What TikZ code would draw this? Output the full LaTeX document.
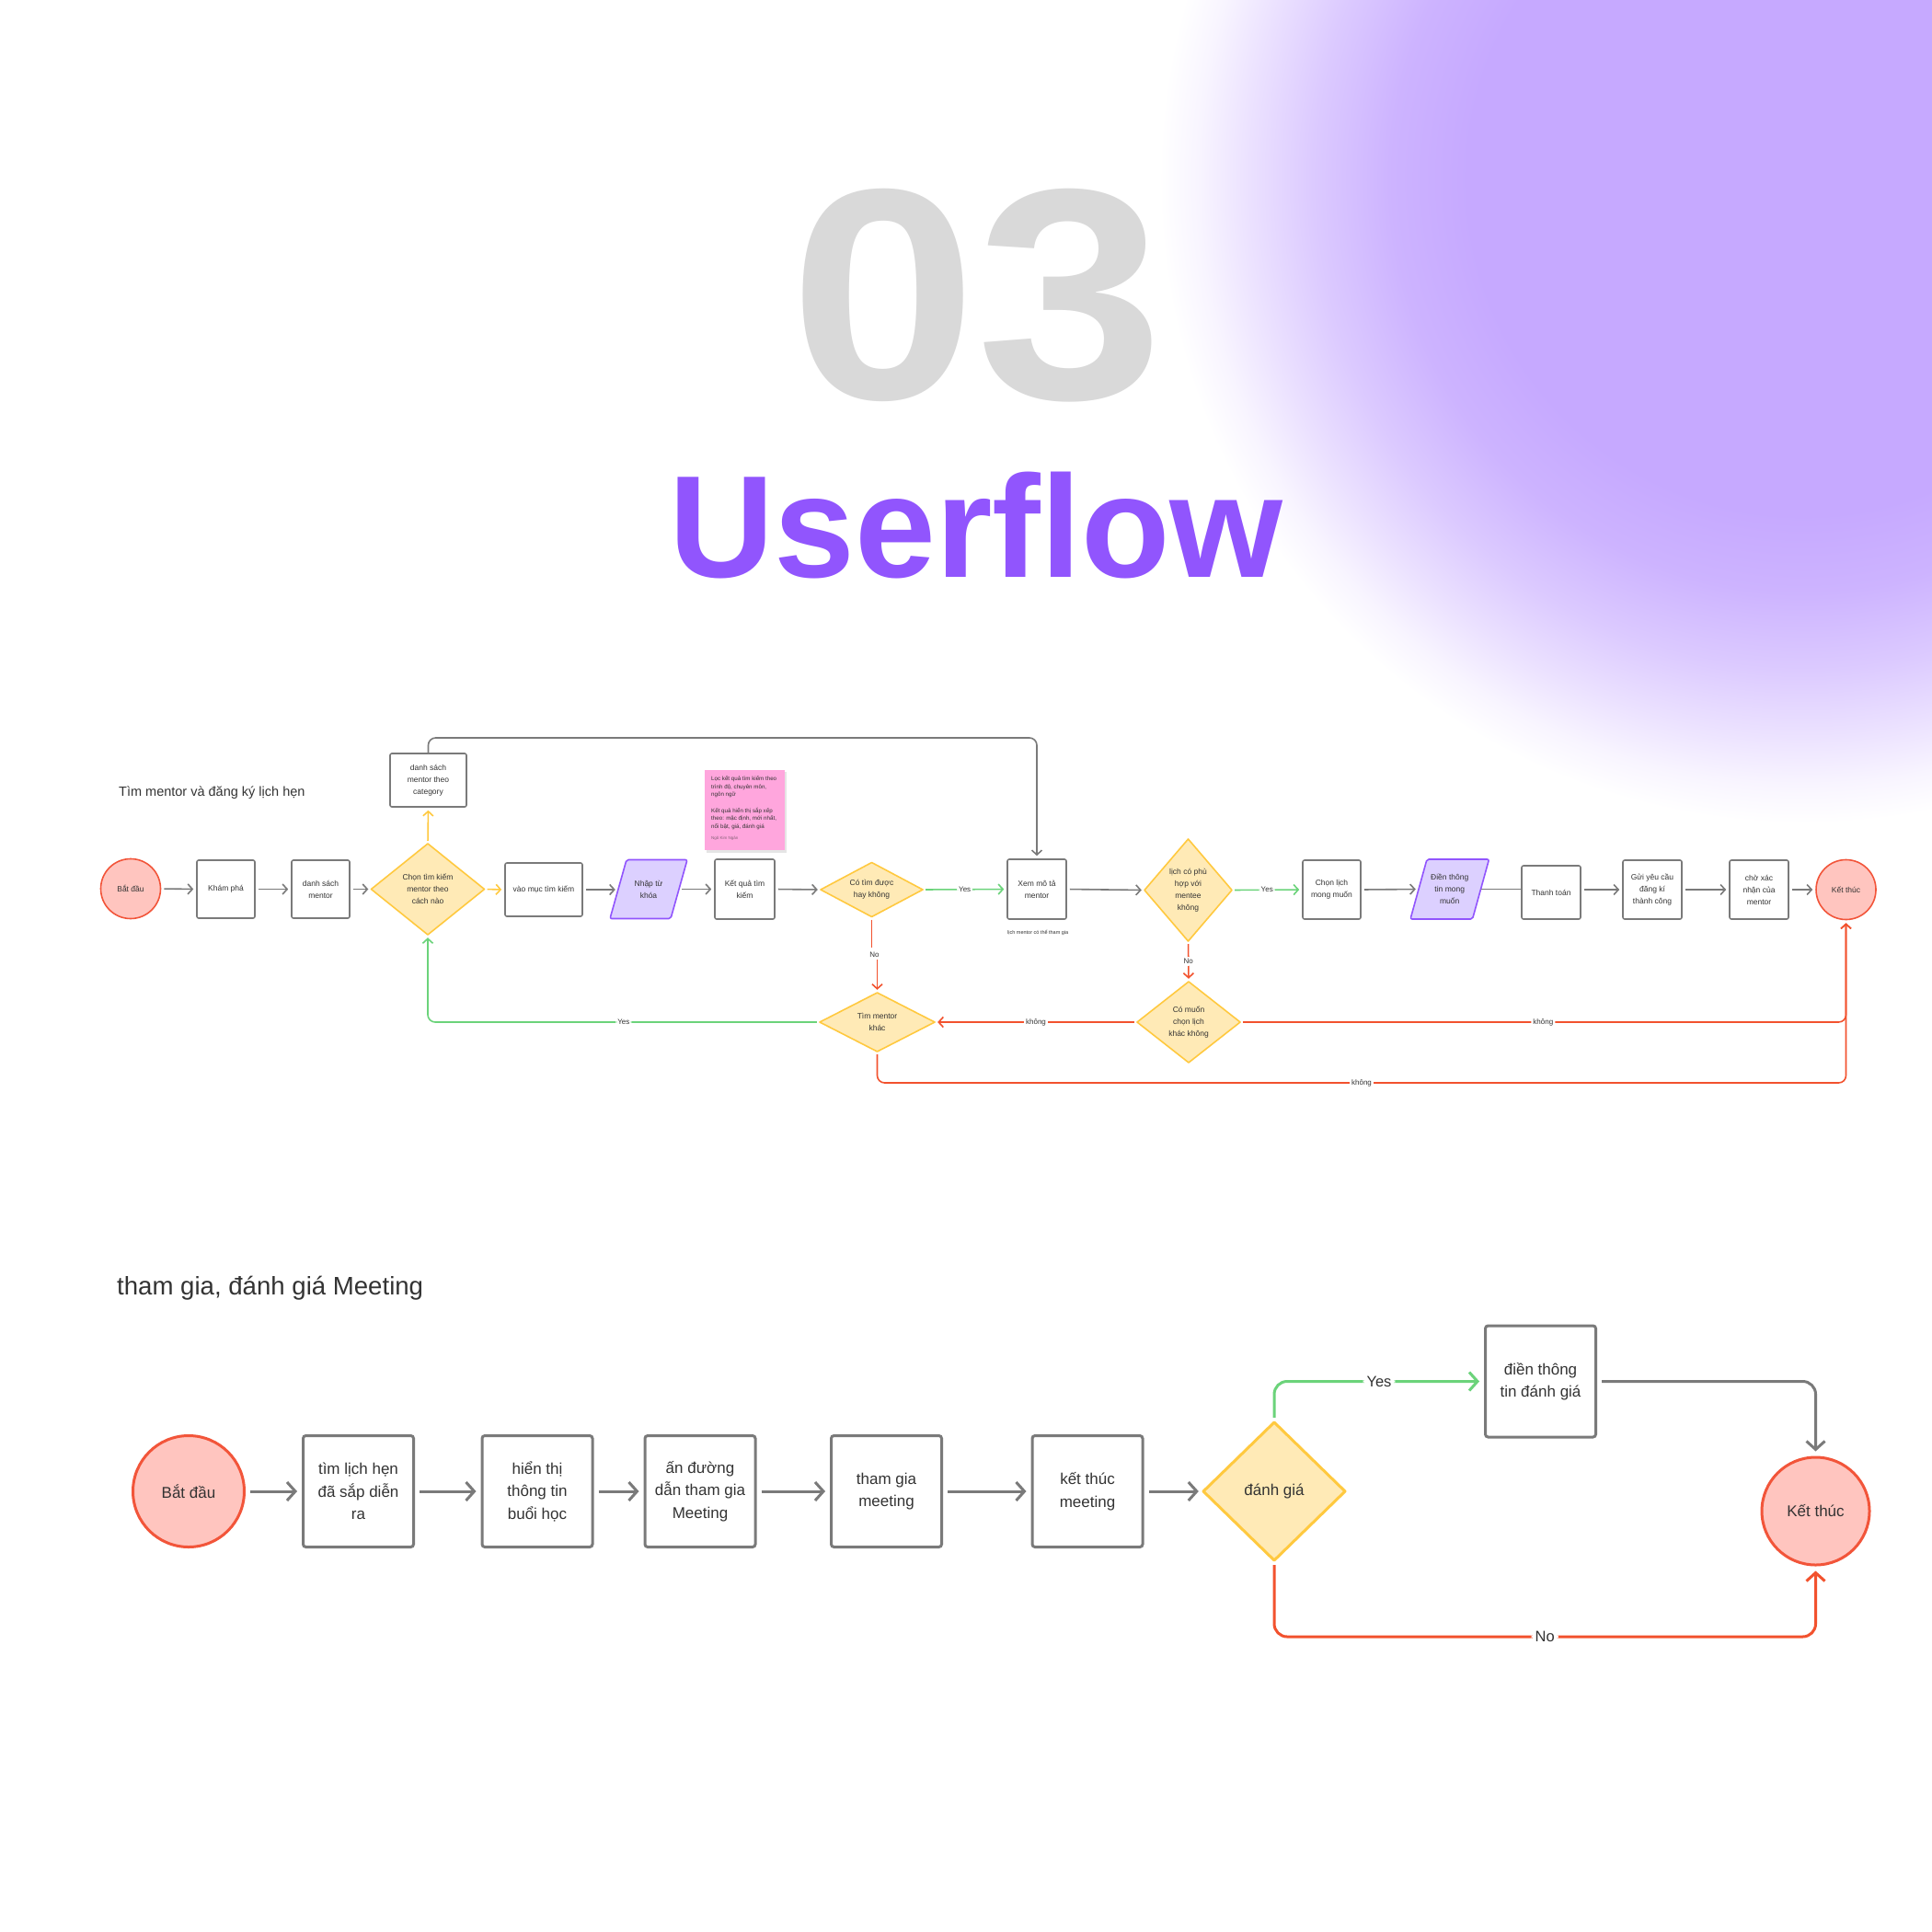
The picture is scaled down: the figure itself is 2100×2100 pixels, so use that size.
\documentclass[tikz,border=0pt]{standalone}
\usepackage{fontspec}
\setmainfont{Liberation Sans}
\usetikzlibrary{arrows.meta}
\definecolor{blobc}{HTML}{C6A9FF}
\definecolor{gray03}{HTML}{D9D9D9}
\definecolor{purp}{HTML}{9155FD}
\definecolor{txt}{HTML}{333333}
\definecolor{boxc}{HTML}{7A7A7A}
\definecolor{gline}{HTML}{7A7A7A}
\definecolor{grc}{HTML}{6BD37A}
\definecolor{redl}{HTML}{F2522E}
\definecolor{redc}{HTML}{F2553A}
\definecolor{pinkc}{HTML}{FFC5BF}
\definecolor{dfill}{HTML}{FFEAB6}
\definecolor{dedge}{HTML}{FFC93F}
\definecolor{pfill}{HTML}{DCD0FF}
\definecolor{pedge}{HTML}{9155FD}
\definecolor{pinkn}{HTML}{FFA6DD}
\colorlet{blobA}{blobc!88!white}
\colorlet{blobB}{blobc!62!white}
\colorlet{blobC}{blobc!35!white}
\colorlet{blobD}{blobc!12!white}
\pgfdeclareradialshading{blobshade}{\pgfpoint{0bp}{0bp}}{color(0bp)=(blobc); color(13bp)=(blobc); color(16bp)=(blobA); color(19bp)=(blobB); color(21.5bp)=(blobC); color(23.5bp)=(blobD); color(25bp)=(white); color(50bp)=(white)}
\newcommand\myfs[2]{\fontsize{#1}{#2}\selectfont}
% diamond: shape style, text style, name, x, y, half w, half h, text
\newcommand\dmd[8]{%
  \path[#1] (#4-#6,#5) -- (#4,#5-#7) -- (#4+#6,#5) -- (#4,#5+#7) -- cycle;
  \node[#2, minimum width=2*#6, minimum height=2*#7] (#3) at (#4,#5) {#8};}
% parallelogram: shape style, text style, name, x, y, half w (mid), half h, slant, text
\newcommand\prl[9]{%
  \path[#1] (#4-#6-#8,#5+#7) -- (#4-#6+#8,#5-#7) -- (#4+#6+#8,#5-#7) -- (#4+#6-#8,#5+#7) -- cycle;
  \node[#2, minimum width=2*#6, minimum height=2*#7] (#3) at (#4,#5) {#9};}
\tikzset{
  bx1/.style={rectangle, draw=boxc, line width=1.6pt, rounded corners=2pt, fill=white, inner sep=0pt, align=center, font=\myfs{8.5}{13}, text=txt},
  tx1/.style={rectangle, inner sep=0pt, align=center, font=\myfs{8.5}{13}, text=txt},
  ci1/.style={circle, draw=redc, fill=pinkc, line width=1.6pt, inner sep=0pt, minimum size=65pt, align=center, font=\myfs{8.5}{13}, text=txt},
  df1/.style={fill=dfill, draw=dedge, line width=1.6pt, line join=round},
  pf1/.style={fill=pfill, draw=pedge, line width=1.6pt, line join=round, rounded corners=2pt},
  ln1/.style={line width=1.6pt, shorten >=3pt, shorten <=3pt, -{Straight Barb[length=5pt,width=11pt]}, rounded corners=8pt},
  gy1/.style={ln1, draw=gline},
  gr1/.style={ln1, draw=grc},
  rd1/.style={ln1, draw=redl},
  yl1/.style={ln1, draw=dedge},
  lb1/.style={fill=white, inner sep=2pt, font=\myfs{8}{10}, text=txt},
  bx2/.style={rectangle, draw=boxc, line width=3pt, rounded corners=3pt, fill=white, inner sep=0pt, align=center, minimum width=120pt, minimum height=121pt, font=\myfs{17}{24.5}, text=txt},
  tx2/.style={rectangle, inner sep=0pt, align=center, font=\myfs{17}{24.5}, text=txt},
  ci2/.style={circle, draw=redc, fill=pinkc, line width=3pt, inner sep=0pt, minimum size=121pt, align=center, font=\myfs{17}{24.5}, text=txt},
  df2/.style={fill=dfill, draw=dedge, line width=3pt, line join=round},
  ln2/.style={line width=3pt, shorten >=5pt, shorten <=5pt, -{Straight Barb[length=9pt,width=20pt]}, rounded corners=14pt},
  gy2/.style={ln2, draw=gline},
  gr2/.style={ln2, draw=grc},
  rd2/.style={ln2, draw=redl},
  lb2/.style={fill=white, inner sep=4pt, font=\myfs{16.5}{20}, text=txt},
}
\begin{document}
\begin{tikzpicture}[x=1pt,y=-1pt]
\useasboundingbox (0,0) rectangle (2100,2100);
\fill[white] (0,0) rectangle (2100,2100);
\begin{scope}
  \clip (0,0) rectangle (2100,2100);
  \shade[shading=blobshade] (1960,195) circle[radius=700pt];
\end{scope}
% headings
\node[anchor=base, inner sep=0pt, font=\myfs{327}{327}\bfseries, text=gray03] (num) at (1062,433) {\scalebox{1.12}[1]{03}};
\node[anchor=base, inner sep=0pt, font=\myfs{158}{158}\bfseries, text=purp] (uf) at (1061,627) {Userflow};
\node[anchor=base west, inner sep=0pt, font=\myfs{14.5}{17}, text=txt] (title1) at (129,865) {Tìm mentor và đăng ký lịch hẹn};
\node[anchor=base west, inner sep=0pt, font=\myfs{27.6}{30}, text=txt] (title2) at (127,1407) {tham gia, đánh giá Meeting};

% ---------- flow 1 ----------
\node[ci1] (s1) at (142,966) {Bắt đầu};
\node[bx1, minimum width=63pt, minimum height=63pt] (kp) at (245.5,966.5) {Khám phá};
\node[bx1, minimum width=63pt, minimum height=63pt] (dsm) at (348.5,966.5) {danh sách\\mentor};
\dmd{df1}{tx1}{chon}{465}{966.5}{61.5}{49.5}{Chọn tìm kiếm\\mentor theo\\cách nào}
\node[bx1, minimum width=83pt, minimum height=58pt] (cat) at (465.5,848) {danh sách\\mentor theo\\category};
\node[bx1, minimum width=84pt, minimum height=58pt] (vao) at (591,967) {vào mục tìm kiếm};
\prl{pf1}{tx1}{nhap}{705}{966.5}{33}{32}{9}{Nhập từ\\khóa}
\node[bx1, minimum width=65pt, minimum height=65pt] (kq) at (809.5,966.5) {Kết quả tìm\\kiếm};
% note
\fill[black, opacity=0.10] (767.5,839) rectangle (855,926.5);
\node[fill=pinkn, minimum width=87pt, minimum height=87pt, inner sep=0pt] (note) at (809.5,880.5) {};
\node[anchor=north west, inner sep=0pt, align=left, font=\myfs{6.2}{8.7}, text=txt] (notetext) at (773,843.5) {Lọc kết quả tìm kiếm theo\\trình độ, chuyên môn,\\ngôn ngữ\\[8.7pt]Kết quả hiển thị sắp xếp\\theo: mặc định, mới nhất,\\nổi bật, giá, đánh giá\\[3pt]{\myfs{4.5}{6}\color{txt!60!pinkn}Ngô Kim Ngân}};
\dmd{df1}{tx1}{co}{947.5}{967}{55.5}{29.5}{Có tìm được\\hay không}
\node[bx1, minimum width=64pt, minimum height=65pt] (xem) at (1127,966.5) {Xem mô tả\\mentor};
\node[anchor=west, inner sep=0pt, font=\myfs{5.5}{7}, text=txt] (xemsub) at (1095,1014) {lịch mentor có thể tham gia};
\dmd{df1}{tx1}{tim}{953.5}{1111}{62.5}{32}{Tìm mentor\\khác}
\dmd{df1}{tx1}{lich}{1291.5}{967.5}{47.5}{55.5}{lịch có phù\\hợp với\\mentee\\không}
\node[bx1, minimum width=63pt, minimum height=64pt] (chl) at (1447.5,967) {Chọn lịch\\mong muốn};
\prl{pf1}{tx1}{dien}{1575.75}{966.5}{33.75}{32.5}{9}{Điền thông\\tin mong\\muốn}
\node[bx1, minimum width=64pt, minimum height=58pt] (tt) at (1686,970) {Thanh toán};
\node[bx1, minimum width=64pt, minimum height=64pt] (gui) at (1796,967) {Gửi yêu cầu\\đăng kí\\thành công};
\node[bx1, minimum width=64pt, minimum height=64pt] (cho) at (1912,967) {chờ xác\\nhận của\\mentor};
\node[ci1] (e1) at (2006.5,967) {Kết thúc};
\dmd{df1}{tx1}{muon}{1292}{1111}{56}{44}{Có muốn\\chọn lịch\\khác không}

\draw[gy1] (s1.east) -- (kp.west);
\draw[gy1] (kp.east) -- (dsm.west);
\draw[gy1] (dsm.east) -- (chon.west);
\draw[yl1] (chon.north) -- (cat.south);
\draw[yl1] (chon.east) -- (vao.west);
\draw[gy1] (vao.east) -- (vao.east -| nhap.west);
\draw[gy1] (nhap.east) -- (kq.west);
\draw[gy1] (kq.east) -- (co.west);
\draw[gr1] (co.east) -- node[lb1]{Yes} (xem.west);
\coordinate (topy) at (0,802);
\draw[gy1, shorten <=0pt] (cat.north) |- (xem.north |- topy) -- (xem.north);
\node[lb1] (no1) at (950.5,1038) {No};
\draw[rd1, -] (co.south) -- (co.south |- no1.north);
\draw[rd1, shorten <=0pt] (tim.north |- no1.south) -- (tim.north);
\draw[gr1] (tim.west) -| node[lb1, pos=0.25]{Yes} (chon.south);
\draw[rd1] (muon.west) -- node[lb1]{không} (tim.east);
\draw[gy1] (xem.east) -- (lich.west);
\draw[gr1] (lich.east) -- node[lb1]{Yes} (chl.west);
\draw[rd1] (lich.south) -- node[lb1]{No} (muon.north);
\draw[gy1] (chl.east) -- (dien.west);
\draw[gy1, -, shorten <=0pt, shorten >=0pt] (dien.east) -- (dien.east -| tt.west);
\draw[gy1] (tt.east |- gui.west) -- (gui.west);
\draw[gy1] (gui.east) -- (cho.west);
\draw[gy1] (cho.east) -- (e1.west);
\draw[rd1] (muon.east) -| node[lb1, pos=0.25]{không} (e1.south);
\coordinate (boty) at (0,1177);
\draw[rd1] (tim.south) |- node[lb1, pos=0.75]{không} (e1.south |- boty) -- (e1.south);

% ---------- flow 2 ----------
\node[ci2] (s2) at (205,1621) {Bắt đầu};
\node[bx2] (m1) at (389.5,1621) {tìm lịch hẹn\\đã sắp diễn\\ra};
\node[bx2] (m2) at (584,1621) {hiển thị\\thông tin\\buổi học};
\node[bx2] (m3) at (761,1621) {ấn đường\\dẫn tham gia\\Meeting};
\node[bx2] (m4) at (963.5,1621) {tham gia\\meeting};
\node[bx2] (m5) at (1182,1621) {kết thúc\\meeting};
\dmd{df2}{tx2}{dg}{1385}{1621}{77}{75}{đánh giá}
\node[bx2] (m6) at (1674.5,1501.5) {điền thông\\tin đánh giá};
\node[ci2, minimum size=117pt] (e2) at (1973.5,1642.5) {Kết thúc};

\draw[gy2] (s2.east) -- (m1.west);
\draw[gy2] (m1.east) -- (m2.west);
\draw[gy2] (m2.east) -- (m3.west);
\draw[gy2] (m3.east) -- (m4.west);
\draw[gy2] (m4.east) -- (m5.west);
\draw[gy2] (m5.east) -- (dg.west);
\draw[gr2] (dg.north) |- node[lb2, pos=0.75]{Yes} (m6.west);
\draw[gy2] (m6.east) -| (e2.north);
\coordinate (nby) at (0,1779);
\draw[rd2] (dg.south) |- node[lb2, pos=0.75]{No} (e2.south |- nby) -- (e2.south);
\end{tikzpicture}
\end{document}
